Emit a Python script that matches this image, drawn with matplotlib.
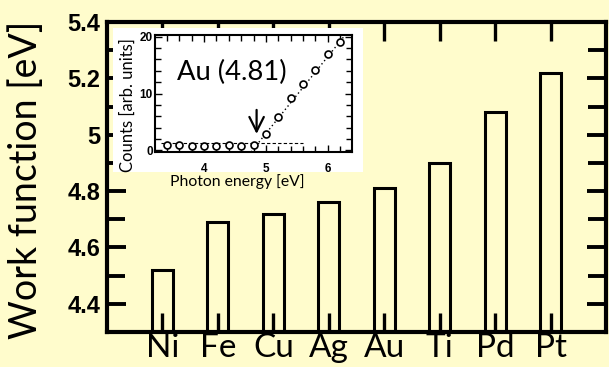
import numpy as np
import matplotlib
matplotlib.use("Agg")
import matplotlib.pyplot as plt
from matplotlib.patches import Rectangle
from matplotlib.ticker import MultipleLocator

# work functions of metals
metals = ["Ni", "Fe", "Cu", "Ag", "Au", "Ti", "Pd", "Pt"]
work_function = [4.52, 4.69, 4.72, 4.76, 4.81, 4.90, 5.08, 5.22]

# inset: photoemission yield for Au
photon_energy = [3.4, 3.6, 3.8, 4.0, 4.2, 4.4, 4.6, 4.8, 5.0, 5.2, 5.4, 5.6, 5.8, 6.0, 6.2]
counts = [1.0, 0.9, 0.8, 0.7, 0.7, 0.9, 0.7, 1.0, 2.8, 5.9, 9.2, 11.7, 14.2, 17.0, 19.1]
baseline_x = [3.3, 5.6]
baseline_y = [1.2, 1.2]
fit_x = [4.76, 6.28]
fit_y = [-0.3, 20.3]
threshold = 4.85

bg = "#fffccc"
label_font = "Lato"
num_font = "Liberation Sans"

fig = plt.figure(figsize=(6.09, 3.67), dpi=100, facecolor=bg)
ax = fig.add_axes([107/609, 35/367, 499/609, 310/367])
ax.set_facecolor(bg)

xpos = np.arange(len(metals))
base = 4.2
ax.bar(xpos, np.array(work_function) - base, bottom=base, width=0.38,
       facecolor="none", edgecolor="black", linewidth=2.2)
ax.set_xlim(-1, 8)
ax.set_ylim(4.3, 5.4)
ax.set_xticks(xpos)
ax.set_xticklabels(metals, fontfamily=label_font, fontsize=24)
ax.set_yticks([4.4, 4.6, 4.8, 5.0, 5.2, 5.4])
ax.set_yticklabels(["4.4", "4.6", "4.8", "5", "5.2", "5.4"],
                   fontfamily=num_font, fontweight="bold", fontsize=17)
ax.yaxis.set_minor_locator(MultipleLocator(0.1))
ax.tick_params(axis="x", direction="in", top=True, length=14, width=2.4, pad=1)
ax.tick_params(axis="y", which="major", direction="in", right=True, length=14, width=2.8, pad=5)
ax.tick_params(axis="y", which="minor", direction="in", right=True, length=13, width=2.8)
for s in ax.spines.values():
    s.set_linewidth(3)
ax.set_ylabel("Work function [eV]", fontfamily=label_font, fontsize=27)
ax.yaxis.set_label_coords(-0.126, 0.49)

# white backdrop of the inset picture
fig.patches.append(Rectangle((113/609, 195/367), 250/609, 144/367,
                             transform=fig.transFigure, facecolor="white",
                             edgecolor="none", zorder=1))

ins = fig.add_axes([155/609, 215/367, 197/609, 117/367], zorder=2)
ins.set_facecolor("white")
ins.plot(baseline_x, baseline_y, color="black", linestyle=(0, (3, 2)), linewidth=0.8)
ins.plot(fit_x, fit_y, color="black", linestyle=(0, (1, 2)), linewidth=1.0)
ins.plot(photon_energy, counts, linestyle="none", marker="o", markersize=5,
         markerfacecolor="white", markeredgecolor="black", markeredgewidth=1.2)
ins.annotate("", xy=(threshold, 2.4), xytext=(threshold, 7.6),
             arrowprops=dict(arrowstyle="->", lw=1.6, color="black", mutation_scale=26))
ins.text(3.56, 13.7, "Au (4.81)", fontfamily=label_font, fontsize=19.7, va="center", ha="left")
ins.set_xlim(3.21, 6.39)
ins.set_ylim(-0.3, 20.3)
ins.set_xticks([4, 5, 6])
ins.set_yticks([0, 10, 20])
ins.xaxis.set_minor_locator(MultipleLocator(0.2))
ins.yaxis.set_minor_locator(MultipleLocator(2))
for lab in ins.get_xticklabels() + ins.get_yticklabels():
    lab.set_fontfamily(num_font)
    lab.set_fontweight("bold")
    lab.set_fontsize(8.5)
ins.tick_params(which="both", direction="in", top=True, right=True, width=1.0)
ins.tick_params(which="major", length=5)
ins.tick_params(which="minor", length=4)
ins.tick_params(axis="x", pad=8)
ins.tick_params(axis="y", pad=1.5)
for s in ins.spines.values():
    s.set_linewidth(1.5)
ins.set_ylabel("Counts [arb. units]", fontfamily=label_font, fontsize=12)
ins.yaxis.set_label_coords(-0.095, 0.40)
ins.set_xlabel("Photon energy [eV]", fontfamily=label_font, fontsize=11.3, va="top")
ins.xaxis.set_label_coords(0.419, -0.188)

fig.savefig("out.png", dpi=100, facecolor=bg)
